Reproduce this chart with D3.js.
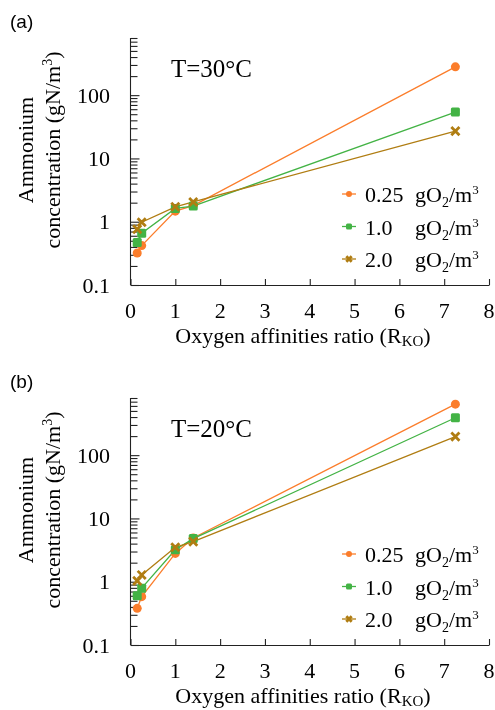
<!DOCTYPE html>
<html>
<head lang="en">
    <meta charset="UTF-8">
    <title></title>
    <script src="https://cdn.jsdelivr.net/npm/d3@7"></script>
    <style>
        *{
            margin: 0;
            padding: 0;
        }
        body{background:#fff;}
    </style>
</head>
<body>
<div id="mychart" style="width:495px;height:710px;position:fixed;left:0;top:0"></div>
<script>
    // x: oxygen affinities ratio R_KO
    var xdata = [0.15, 0.25, 1, 1.4, 7.25];
    var xticks = [0, 1, 2, 3, 4, 5, 6, 7, 8];
    var yticks = [0.1, 1, 10, 100];
    var seriesNames = ["0.25", "1.0", "2.0"];
    // panel (a) T=30°C
    var a_025 = [0.32, 0.42, 1.47, 1.8, 280];
    var a_10 = [0.47, 0.66, 1.62, 1.77, 54];
    var a_20 = [0.76, 0.98, 1.72, 2.05, 27];
    // panel (b) T=20°C
    var b_025 = [0.38, 0.58, 2.8, 4.9, 640];
    var b_10 = [0.6, 0.79, 3.2, 4.8, 390];
    var b_20 = [1.03, 1.28, 3.5, 4.3, 196];

    var colors = ["#fb7d2b", "#43b345", "#b07d12"];
    var shapes = ["circle", "square", "cross"];
    var serif = "'Liberation Serif','Times New Roman',serif";

    var _svg = d3.select("#mychart")
            .append("svg")
            .attr("width", 495)
            .attr("height", 710);

    drawPanel(0, "(a)", "T=30\u00B0C", [a_025, a_10, a_20]);
    drawPanel(360, "(b)", "T=20\u00B0C", [b_025, b_10, b_20]);

    function drawMarker(g, shape, x, y, color, s) {
        if (shape == "circle") {
            g.append("circle").attr("cx", x).attr("cy", y).attr("r", s * 0.5)
                    .attr("fill", color);
        } else if (shape == "square") {
            g.append("rect").attr("x", x - s / 2).attr("y", y - s / 2)
                    .attr("width", s).attr("height", s).attr("rx", 1.5)
                    .attr("fill", color);
        } else {
            var h = s * 0.45;
            g.append("path")
                    .attr("d", "M" + (x - h) + "," + (y - h) + "L" + (x + h) + "," + (y + h) +
                            "M" + (x - h) + "," + (y + h) + "L" + (x + h) + "," + (y - h))
                    .attr("stroke", color).attr("stroke-width", 2.8).attr("fill", "none");
        }
    }

    function drawPanel(top, tag, title, series) {
        var g = _svg.append("g").attr("transform", "translate(0," + top + ")");

        var _xscale = d3.scaleLinear().domain([0, 8]).range([130.5, 489]);
        var _yscale = d3.scaleLog().domain([0.1, 800]).range([285, 38]);

        // panel tag
        g.append("text").attr("x", 10).attr("y", 28)
                .style("font-family", "'Liberation Sans',Arial,sans-serif")
                .style("font-size", "19px").text(tag);

        // y axis
        var gy = g.append("g").attr("transform", "translate(130.5,0)");
        var _yaxis = d3.axisRight(_yscale)
                .tickValues(_yscale.ticks().filter(function (d) { return d <= 800; }))
                .tickSize(7)
                .tickFormat("");
        _yaxis(gy);
        gy.select(".domain").attr("d", "M0,38V285");
        gy.selectAll(".tick line").attr("x2", function (d) {
            return yticks.indexOf(d) >= 0 ? 9 : 7;
        });
        gy.selectAll("line, path").attr("stroke", "#222").attr("stroke-width", 1.1);

        g.append("g").selectAll("text")
                .data(yticks)
                .enter()
                .append("text")
                .attr("x", 110)
                .attr("y", function (d) { return _yscale(d); })
                .attr("dy", "0.35em")
                .attr("text-anchor", "end")
                .style("font-family", serif)
                .style("font-size", "22px")
                .text(function (d) { return d; });

        // x axis
        var gx = g.append("g").attr("transform", "translate(0,285)");
        var _xaxis = d3.axisTop(_xscale)
                .tickValues(xticks)
                .tickSize(6)
                .tickSizeOuter(0)
                .tickFormat("");
        _xaxis(gx);
        gx.selectAll("line, path").attr("stroke", "#222").attr("stroke-width", 1.1);

        g.append("g").selectAll("text")
                .data(xticks)
                .enter()
                .append("text")
                .attr("x", function (d) { return _xscale(d); })
                .attr("y", 318)
                .attr("text-anchor", "middle")
                .style("font-family", serif)
                .style("font-size", "22px")
                .text(function (d) { return d; });

        // axis titles
        var xt = g.append("text")
                .attr("x", 303).attr("y", 343)
                .attr("text-anchor", "middle")
                .style("font-family", serif)
                .style("font-size", "22px");
        xt.append("tspan").text("Oxygen affinities ratio (R");
        xt.append("tspan").attr("dy", 3).style("font-size", "15px").text("KO");
        xt.append("tspan").attr("dy", -3).text(")");

        var yt = g.append("text")
                .attr("transform", "translate(33,150) rotate(-90)")
                .attr("text-anchor", "middle")
                .style("font-family", serif)
                .style("font-size", "22px");
        yt.append("tspan").attr("x", 0).attr("y", 0).text("Ammonium");
        yt.append("tspan").attr("x", 0).attr("y", 27).text("concentration (gN/m");
        yt.append("tspan").attr("dy", -8).style("font-size", "14px").text("3");
        yt.append("tspan").attr("dy", 8).text(")");

        g.append("text").attr("x", 171).attr("y", 77)
                .style("font-family", serif)
                .style("font-size", "25px")
                .text(title);

        // lines and markers
        var _line = d3.line()
                .x(function (d) { return _xscale(d[0]); })
                .y(function (d) { return _yscale(d[1]); });
        var gc = g.append("g");
        series.forEach(function (ydata, k) {
            gc.append("path")
                    .attr("d", _line(d3.zip(xdata, ydata)))
                    .attr("stroke", colors[k])
                    .attr("stroke-width", 1.3)
                    .attr("fill", "none");
        });
        series.forEach(function (ydata, k) {
            ydata.forEach(function (v, i) {
                drawMarker(gc, shapes[k], _xscale(xdata[i]), _yscale(v), colors[k], 9);
            });
        });

        // legend
        var gl = g.append("g");
        seriesNames.forEach(function (name, k) {
            var ly = 194 + k * 32.5;
            gl.append("line").attr("x1", 342).attr("x2", 356).attr("y1", ly).attr("y2", ly)
                    .attr("stroke", colors[k]).attr("stroke-width", 1.3);
            drawMarker(gl, shapes[k], 349, ly, colors[k], 6);
            gl.append("text").attr("x", 365).attr("y", ly + 8)
                    .style("font-family", serif).style("font-size", "22px").text(name);
            var t = gl.append("text").attr("x", 415).attr("y", ly + 8)
                    .style("font-family", serif).style("font-size", "22px");
            t.append("tspan").text("gO");
            t.append("tspan").attr("dy", 5).style("font-size", "14px").text("2");
            t.append("tspan").attr("dy", -5).text("/m");
            t.append("tspan").attr("dy", -8).style("font-size", "13px").text("3");
        });
    }
</script>
</body>
</html>
